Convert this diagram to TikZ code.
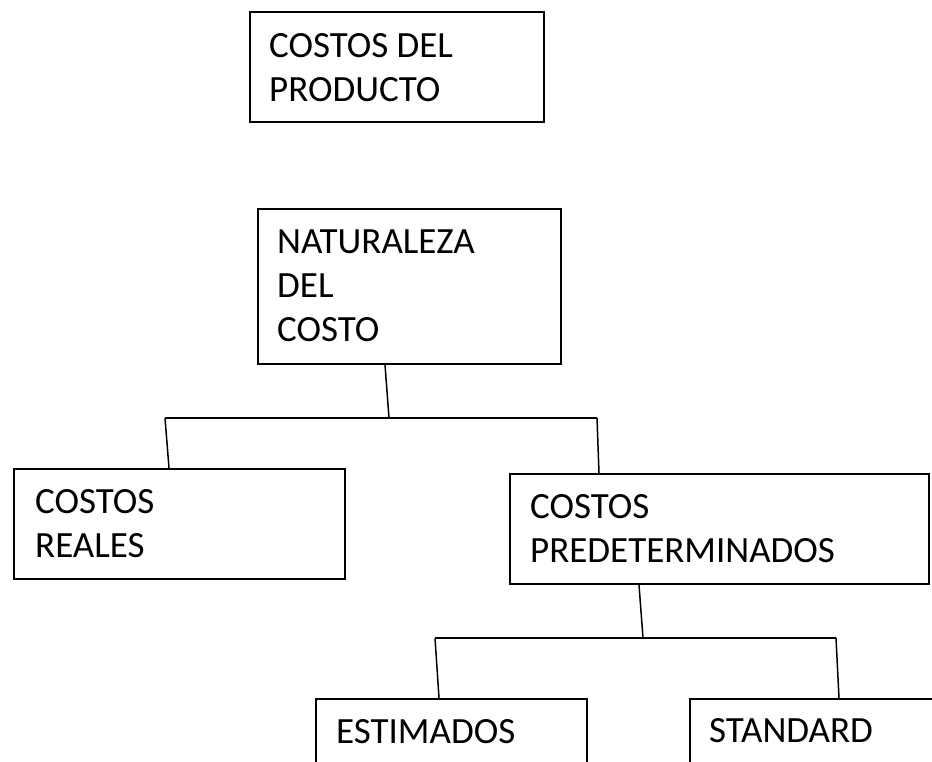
\documentclass[tikz,border=0pt]{standalone}
\usepackage{fontspec}
\setmainfont{Carlito}
\usetikzlibrary{calc}
\begin{document}
\begin{tikzpicture}[x=1pt,y=-1pt,
  box/.style={draw, line width=1.8pt, rectangle, inner sep=0pt, anchor=north west},
  lbl/.style={anchor=base west, inner sep=0pt, text height=24pt, text depth=6pt, font=\fontsize{37}{43}\selectfont},
  link/.style={line width=1.5pt}]
\path[use as bounding box] (0,0) rectangle (932,761);
\clip (0,0) rectangle (932,761);
% boxes
\node[box, minimum width=294pt, minimum height=110pt] (b1) at (249,11) {};
\node[box, minimum width=303pt, minimum height=155pt] (b2) at (257,208) {};
\node[box, minimum width=331pt, minimum height=110pt] (b3) at (13,468) {};
\node[box, minimum width=419pt, minimum height=110pt] (b4) at (509,473) {};
\node[box, minimum width=271pt, minimum height=100pt] (b5) at (315,698) {};
\node[box, minimum width=280pt, minimum height=100pt] (b6) at (689,698) {};
% labels
\node[lbl] (t1a) at (269,57) {COSTOS DEL};
\node[lbl] (t1b) at (269,101) {PRODUCTO};
\node[lbl] (t2a) at (277,253) {NATURALEZA};
\node[lbl] (t2b) at (277,297) {DEL};
\node[lbl] (t2c) at (277,341) {COSTO};
\node[lbl] (t3a) at (35,513) {COSTOS};
\node[lbl] (t3b) at (35,557) {REALES};
\node[lbl] (t4a) at (530,518) {COSTOS};
\node[lbl] (t4b) at (530,562) {PREDETERMINADOS};
\node[lbl] (t5) at (336,743) {ESTIMADOS};
\node[lbl] (t6) at (709,742) {STANDARD};
% junctions
\coordinate (h1) at (389,418);
\coordinate (h1l) at (165,418);
\coordinate (h1r) at (597,418);
\coordinate (h2) at (643,638);
\coordinate (h2l) at (435,638);
\coordinate (h2r) at (836,638);
% connectors
\draw[link] ($(b2.south west)+(128,0)$) -- (h1);
\draw[link] (h1l) -- (h1r);
\draw[link] (h1l) -- ($(b3.north west)+(156,0)$);
\draw[link] (h1r) -- ($(b4.north west)+(90,0)$);
\draw[link] ($(b4.south west)+(130,0)$) -- (h2);
\draw[link] (h2l) -- (h2r);
\draw[link] (h2l) -- ($(b5.north west)+(124,0)$);
\draw[link] (h2r) -- ($(b6.north west)+(150,0)$);
\end{tikzpicture}
\end{document}
